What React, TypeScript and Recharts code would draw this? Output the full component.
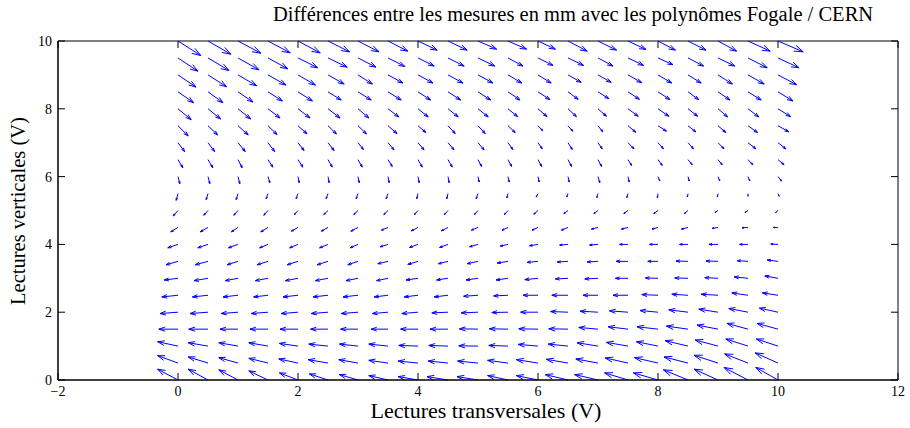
import React from 'react';
import { ComposedChart, XAxis, YAxis, ReferenceLine, ReferenceArea, Scatter } from 'recharts';

// Grid of measurement points (V)
const X_GRID = [0, 0.5, 1, 1.5, 2, 2.5, 3, 3.5, 4, 4.5, 5, 5.5, 6, 6.5, 7, 7.5, 8, 8.5, 9, 9.5, 10];
const Y_GRID = [0, 0.5, 1, 1.5, 2, 2.5, 3, 3.5, 4, 4.5, 5, 5.5, 6, 6.5, 7, 7.5, 8, 8.5, 9, 9.5, 10];

// Horizontal component of the differences (scaled, hundredths), one row per Y_GRID value
const U_ROWS = [
  [-34, -33, -32, -32, -31, -31, -31, -32, -33, -35, -35, -34, -36, -38, -39, -39, -41, -41, -40, -40, -37],
  [-34, -33, -32, -32, -32, -33, -32, -32, -33, -33, -34, -34, -36, -36, -37, -38, -39, -40, -40, -39, -38],
  [-34, -33, -32, -32, -31, -32, -31, -32, -32, -32, -32, -32, -33, -33, -35, -36, -36, -38, -38, -37, -36],
  [-32, -32, -30, -30, -30, -29, -29, -28, -29, -30, -31, -31, -32, -32, -32, -33, -35, -36, -35, -35, -35],
  [-30, -30, -28, -28, -28, -28, -28, -26, -27, -27, -28, -27, -29, -29, -30, -31, -30, -32, -32, -32, -31],
  [-27, -26, -25, -24, -25, -25, -25, -23, -23, -23, -24, -24, -25, -27, -25, -25, -27, -27, -28, -27, -26],
  [-23, -23, -21, -21, -21, -21, -20, -19, -20, -19, -20, -20, -22, -21, -22, -21, -21, -22, -22, -23, -22],
  [-20, -21, -18, -18, -18, -18, -17, -17, -17, -16, -18, -18, -18, -18, -18, -20, -17, -20, -20, -18, -18],
  [-17, -17, -16, -14, -14, -14, -13, -13, -14, -14, -14, -13, -14, -14, -14, -14, -14, -14, -15, -14, -12],
  [-12, -13, -11, -12, -11, -11, -12, -11, -11, -11, -11, -10, -10, -11, -11, -11, -10, -11, -10, -10, -8],
  [-8, -7, -7, -7, -6, -7, -7, -7, -6, -6, -6, -6, -7, -7, -7, -7, -7, -6, -5, -5, -4],
  [-3, -3, -3, -3, -3, -3, -3, -3, -2, -2, -3, -2, -3, -2, -2, -2, -1, -1, -1, 0, 2],
  [3, 3, 3, 3, 2, 2, 2, 2, 2, 2, 2, 2, 2, 2, 3, 2, 3, 2, 3, 3, 6],
  [8, 8, 7, 8, 8, 7, 7, 7, 7, 7, 6, 6, 6, 6, 6, 6, 7, 7, 7, 8, 10],
  [11, 11, 12, 11, 10, 10, 9, 10, 10, 10, 10, 8, 7, 7, 7, 10, 9, 9, 10, 13, 13],
  [17, 16, 17, 15, 15, 14, 14, 15, 13, 12, 12, 12, 8, 8, 8, 13, 14, 13, 13, 16, 18],
  [22, 21, 21, 20, 20, 20, 18, 18, 17, 17, 17, 16, 15, 14, 14, 17, 18, 16, 16, 18, 21],
  [26, 25, 25, 24, 24, 22, 22, 22, 21, 21, 21, 20, 20, 17, 18, 19, 20, 18, 20, 22, 25],
  [30, 31, 31, 30, 29, 27, 24, 25, 25, 25, 25, 23, 22, 22, 22, 23, 23, 22, 24, 27, 31],
  [33, 35, 35, 33, 33, 32, 30, 28, 27, 27, 28, 25, 25, 26, 25, 26, 25, 26, 28, 32, 35],
  [38, 38, 38, 37, 37, 36, 35, 33, 32, 32, 31, 31, 29, 32, 31, 30, 29, 30, 31, 37, 42],
];

// Vertical component of the differences (scaled, hundredths), one row per Y_GRID value
const V_ROWS = [
  [32, 32, 30, 27, 21, 18, 16, 13, 10, 10, 10, 13, 13, 16, 16, 21, 21, 30, 32, 37, 37],
  [22, 18, 16, 14, 12, 10, 10, 8, 6, 6, 6, 8, 10, 11, 12, 15, 16, 18, 23, 27, 30],
  [13, 10, 10, 10, 8, 6, 6, 6, 2, 2, 1, 2, 5, 6, 10, 11, 13, 16, 18, 21, 21],
  [0, 0, 0, 0, 0, 0, 0, 0, 0, 0, 1, 1, 1, 1, 5, 7, 7, 9, 12, 17, 17],
  [-4, -4, -4, -4, -4, -4, -4, -4, -4, -2, -2, -1, 0, 2, 3, 4, 5, 7, 9, 11, 12],
  [-5, -5, -5, -5, -5, -5, -5, -5, -5, -5, -3, -2, 0, 0, 0, 0, 2, 3, 3, 7, 7],
  [-5, -7, -7, -7, -7, -7, -7, -7, -5, -5, -5, -5, -4, -2, -2, 0, 1, 1, 2, 4, 7],
  [-10, -10, -10, -10, -10, -10, -10, -7, -9, -7, -7, -5, -3, -2, -2, 0, 0, 1, 1, 2, 4],
  [-10, -10, -10, -10, -10, -10, -10, -7, -9, -9, -7, -5, -4, -2, -2, 0, 0, 0, 0, 0, 1],
  [-13, -13, -13, -13, -11, -11, -11, -8, -10, -10, -8, -8, -8, -8, -5, -5, -5, -5, -3, -1, 0],
  [-16, -14, -14, -14, -12, -12, -12, -12, -12, -12, -12, -12, -11, -9, -9, -9, -9, -9, -6, -6, -6],
  [-20, -18, -18, -15, -15, -15, -15, -15, -15, -15, -15, -13, -10, -10, -12, -12, -12, -10, -10, -8, -8],
  [-21, -21, -21, -18, -18, -18, -18, -18, -18, -18, -16, -16, -16, -16, -18, -16, -13, -13, -13, -13, -13],
  [-24, -24, -24, -22, -22, -22, -22, -20, -22, -22, -20, -20, -20, -20, -20, -17, -17, -15, -15, -15, -15],
  [-26, -26, -26, -26, -23, -23, -20, -21, -21, -21, -21, -20, -18, -20, -18, -18, -18, -18, -18, -18, -18],
  [-30, -27, -27, -26, -24, -24, -24, -23, -20, -23, -23, -20, -15, -16, -18, -19, -16, -18, -20, -20, -18],
  [-32, -30, -30, -27, -27, -27, -27, -24, -24, -24, -24, -23, -23, -23, -22, -22, -22, -22, -24, -24, -23],
  [-32, -32, -30, -27, -27, -24, -24, -24, -24, -24, -24, -24, -23, -22, -20, -22, -23, -23, -24, -24, -27],
  [-36, -35, -32, -30, -30, -27, -27, -24, -24, -24, -24, -24, -24, -22, -22, -23, -24, -24, -27, -27, -29],
  [-39, -37, -35, -32, -29, -27, -27, -25, -24, -24, -24, -24, -22, -22, -24, -22, -20, -24, -24, -29, -29],
  [-43, -39, -36, -35, -35, -32, -32, -30, -27, -27, -24, -24, -24, -30, -27, -25, -27, -27, -30, -30, -32],
];

const X_TICKS = [-2, 0, 2, 4, 6, 8, 10, 12];
const Y_TICKS = [0, 2, 4, 6, 8, 10];

const TITLE = 'Différences entre les mesures en mm avec les polynômes Fogale / CERN';
const X_LABEL = 'Lectures transversales (V)';
const Y_LABEL = 'Lectures verticales (V)';

const UNIT = 100;

type Arrow = { x: number; y: number; u: number; v: number };
const ARROWS: Arrow[] = [];
Y_GRID.forEach((y, i) => {
  X_GRID.forEach((x, j) => {
    ARROWS.push({ x, y, u: U_ROWS[i][j] / UNIT, v: V_ROWS[i][j] / UNIT });
  });
});

const FONT = "'Liberation Serif', 'Times New Roman', serif";
const BLUE = '#0000ff';

const ArrowShape = (props: any) => {
  const { x1, y1, x2, y2 } = props;
  const dx = x2 - x1;
  const dy = y2 - y1;
  const L = Math.hypot(dx, dy);
  if (!isFinite(L) || L < 0.2) return <g />;
  const ux = dx / L;
  const uy = dy / L;
  const hl = 0.33 * L;
  const hw = 0.11 * L;
  const bx = x2 - ux * hl;
  const by = y2 - uy * hl;
  const d = `M${x1},${y1}L${x2},${y2}M${bx - uy * hw},${by + ux * hw}L${x2},${y2}L${bx + uy * hw},${by - ux * hw}`;
  return <path d={d} stroke={BLUE} strokeWidth={1} fill="none" />;
};

const TICK_LEN = 7;
const VTickShape = (props: any) => {
  const { x1, y1, y2 } = props;
  const a = Math.min(y1, y2);
  const b = Math.max(y1, y2);
  return <path d={`M${x1},${a}L${x1},${a + TICK_LEN}M${x1},${b}L${x1},${b - TICK_LEN}`} stroke="#000" strokeWidth={1} fill="none" />;
};
const HTickShape = (props: any) => {
  const { x1, x2, y1 } = props;
  const a = Math.min(x1, x2);
  const b = Math.max(x1, x2);
  return <path d={`M${a},${y1}L${a + TICK_LEN},${y1}M${b},${y1}L${b - TICK_LEN},${y1}`} stroke="#000" strokeWidth={1} fill="none" />;
};

const fmt = (v: number) => String(v).replace('-', '\u2212');

export default function App() {
  return (
    <div style={{ position: 'absolute', left: 0, top: 0, width: 910, height: 428, background: '#fff', fontFamily: FONT }}>
      <ComposedChart
        width={910}
        height={428}
        data={ARROWS}
        margin={{ top: 41, right: 12, bottom: 0, left: 0 }}
      >
        <XAxis
          type="number"
          dataKey="x"
          domain={[-2, 12]}
          ticks={X_TICKS}
          allowDataOverflow
          height={48}
          tickLine={false}
          tickSize={0}
          tickMargin={6}
          tickFormatter={fmt}
          axisLine={{ stroke: '#000', strokeWidth: 1 }}
          tick={{ fill: '#000', fontSize: 14, fontFamily: FONT }}
        />
        <YAxis
          type="number"
          dataKey="y"
          domain={[0, 10]}
          ticks={Y_TICKS}
          allowDataOverflow
          width={58}
          tickLine={false}
          tickSize={0}
          tickMargin={6}
          tickFormatter={fmt}
          axisLine={{ stroke: '#000', strokeWidth: 1 }}
          tick={{ fill: '#000', fontSize: 14, fontFamily: FONT }}
        />
        <ReferenceArea x1={-2} x2={12} y1={0} y2={10} fill="none" stroke="#000" strokeWidth={1} ifOverflow="visible" />
        {X_TICKS.map((t) => (
          <ReferenceLine key={`xt${t}`} x={t} ifOverflow="visible" shape={VTickShape} />
        ))}
        {Y_TICKS.map((t) => (
          <ReferenceLine key={`yt${t}`} y={t} ifOverflow="visible" shape={HTickShape} />
        ))}
        {ARROWS.map((a, k) => (
          <ReferenceLine
            key={`a${k}`}
            ifOverflow="visible"
            segment={[{ x: a.x, y: a.y }, { x: a.x + a.u, y: a.y + a.v }]}
            shape={ArrowShape}
          />
        ))}
        <Scatter dataKey="y" isAnimationActive={false} shape={() => <g />} />
      </ComposedChart>
      <div style={{ position: 'absolute', left: 573, top: 3, transform: 'translateX(-50%)', whiteSpace: 'nowrap', fontSize: 20.5, lineHeight: '23px', color: '#000' }}>
        {TITLE}
      </div>
      <div style={{ position: 'absolute', left: 486, top: 402, transform: 'translateX(-50%)', whiteSpace: 'nowrap', fontSize: 22, lineHeight: '18px', color: '#000' }}>
        {X_LABEL}
      </div>
      <div style={{ position: 'absolute', left: 18, top: 211, transform: 'translate(-50%, -50%) rotate(-90deg)', whiteSpace: 'nowrap', fontSize: 20.5, lineHeight: '22px', color: '#000' }}>
        {Y_LABEL}
      </div>
    </div>
  );
}
